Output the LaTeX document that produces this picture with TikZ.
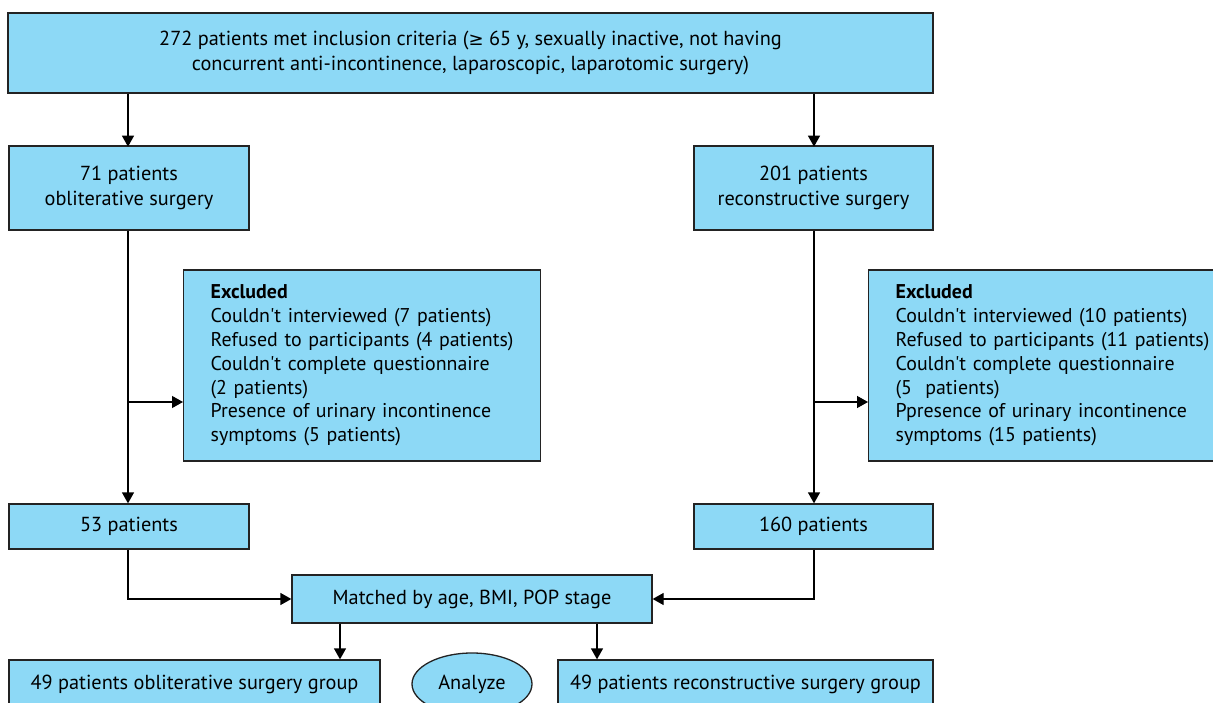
\documentclass[tikz,border=0pt]{standalone}
\usepackage{fontspec}
\setmainfont{PT Sans}[Ligatures=TeXOff]
\newfontfamily\symfont{DejaVu Sans}
\usetikzlibrary{arrows.meta,shapes.geometric}
\definecolor{boxblue}{RGB}{141,217,246}
\definecolor{edge}{RGB}{35,35,35}
\tikzset{
  box/.style={draw=edge, line width=1.3pt, fill=boxblue, inner sep=0pt, align=center,
    font=\fontsize{20.3}{24.5}\selectfont},
  exbox/.style={draw=edge, line width=1.3pt, fill=boxblue, inner xsep=27pt, inner ysep=0pt,
    align=left, font=\fontsize{19.9}{23.8}\selectfont},
  conn/.style={line width=1.3pt, -{Triangle[length=11pt,width=12pt]}},
}
\begin{document}
\begin{tikzpicture}[x=1pt,y=-1pt]
\useasboundingbox (0,0) rectangle (1213,703);
\clip (0,0) rectangle (1213,703);
\node[box, minimum width=925, minimum height=80] (top) at (470.5,53)
  {272 patients met inclusion criteria ({\symfont\fontsize{18}{20}\selectfont ≥} 65 y, sexually inactive, not having\\concurrent anti-incontinence, laparoscopic, laparotomic surgery)};
\node[box, minimum width=240, minimum height=84] (obl) at (129,188) {71 patients\\obliterative surgery};
\node[box, minimum width=239, minimum height=84] (rec) at (813.5,188) {201 patients\\reconstructive surgery};
\node[exbox, minimum width=357, minimum height=191, text width=303, anchor=west] (exl) at (183,365.5)
  {\textbf{Excluded}\\\mbox{Couldn't interviewed (7 patients)}\\\mbox{Refused to participants (4 patients)}\\\mbox{Couldn't complete questionnaire}\\(2 patients)\\\mbox{Presence of urinary incontinence}\\\mbox{symptoms (5 patients)}};
\node[exbox, minimum width=362, minimum height=191, text width=308, anchor=west] (exr) at (868,365.5)
  {\textbf{Excluded}\\\mbox{Couldn't interviewed (10 patients)}\\\mbox{Refused to participants (11 patients)}\\\mbox{Couldn't complete questionnaire}\\(5~~patients)\\\mbox{Ppresence of urinary incontinence}\\\mbox{symptoms (15 patients)}};
\node[box, minimum width=240, minimum height=45] (p53) at (129,526.5) {53 patients};
\node[box, minimum width=239, minimum height=45] (p160) at (813.5,526.5) {160 patients};
\node[box, minimum width=360, minimum height=48] (match) at (472,599) {Matched by age, BMI, POP stage};
\node[box, minimum width=371, minimum height=48] (gl) at (194.5,684) {49 patients obliterative surgery group};
\node[box, minimum width=375, minimum height=48] (gr) at (745.5,684) {49 patients reconstructive surgery group};
\node[box, ellipse, minimum width=120, minimum height=62] (an) at (472,684) {Analyze};
\coordinate (bl) at (128,402);
\coordinate (br) at (814,402);
\draw[conn] (top.south -| obl) ++(-1,0) -- ++(0,53);
\draw[conn] (top.south -| rec) ++(0.5,0) -- ++(0,53);
\draw[conn] ([xshift=-1pt]obl.south) -- ([xshift=-1pt]p53.north);
\draw[conn] ([xshift=0.5pt]rec.south) -- ([xshift=0.5pt]p160.north);
\draw[conn] (bl) -- (bl -| exl.west);
\draw[conn] (br) -- (br -| exr.west);
\draw[conn] ([xshift=-1pt]p53.south) |- (match.west);
\draw[conn] ([xshift=0.5pt]p160.south) |- (match.east);
\draw[conn] (match.south -| 340,0) -- (gl.north -| 340,0);
\draw[conn] (match.south -| 597,0) -- (gr.north -| 597,0);
\end{tikzpicture}
\end{document}
